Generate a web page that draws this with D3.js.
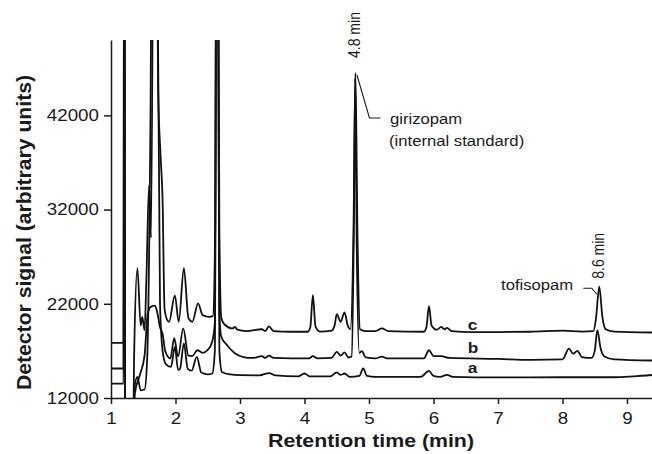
<!DOCTYPE html>
<html>
<head>
<meta charset="utf-8">
<script src="https://cdn.jsdelivr.net/npm/d3@7"></script>
<style>
  body { margin: 0; background: #fff; }
  svg { display: block; font-family: "Liberation Sans", Arial, sans-serif; }
  .axis path, .axis line { stroke: #1a1a1a; stroke-width: 1.5; }
  .axis text { fill: #1a1a1a; font-size: 16.3px; }
  .trace { fill: none; stroke: #111; stroke-width: 1.8; stroke-linejoin: round; }
</style>
</head>
<body>
<div id="chart"></div>
<script>
// retention time (min), detector signal
// values above 50000 / below 12000 are off-scale and get clipped
const traceA = [
  [1.00,13530],[1.195,13530],[1.205,90000],[1.22,0],[1.33,0],[1.36,13000],[1.41,14230],[1.46,12820],
  [1.52,12900],[1.56,16000],[1.61,40000],[1.66,90000],[1.72,60000],[1.76,22000],[1.80,17000],[1.85,15600],
  [1.93,15300],[1.99,17430],[2.04,15000],[2.07,15100],[2.13,17800],[2.19,15100],[2.25,14900],[2.33,16360],
  [2.40,14700],[2.50,14500],[2.57,14600],[2.61,17000],[2.645,90000],[2.68,17000],[2.72,14770],[2.85,14500],
  [3.00,14420],[3.30,14400],[3.45,14650],[3.55,14400],[3.90,14300],[4.00,14600],[4.08,14300],[4.40,14300],
  [4.50,14730],[4.56,14450],[4.62,14600],[4.70,14250],[4.85,14350],[4.91,15130],[4.97,14350],[5.10,14250],
  [5.80,14250],[5.93,14870],[6.00,14350],[6.10,14250],[6.21,14450],[6.30,14250],[7.00,14180],[8.00,14200],
  [8.80,14200],[9.10,14300],[9.40,14450]
];
const traceB = [
  [1.00,15130],[1.195,15130],[1.205,90000],[1.22,0],[1.33,0],[1.37,12500],[1.45,14500],[1.52,16500],
  [1.57,21000],[1.62,21700],[1.68,21800],[1.72,21000],[1.76,19500],[1.80,18800],[1.84,17000],[1.92,16200],
  [1.98,18350],[2.04,16400],[2.12,19380],[2.20,16500],[2.26,16450],[2.34,17070],[2.42,16800],[2.50,17100],
  [2.57,18000],[2.61,20000],[2.64,90000],[2.68,21000],[2.71,18500],[2.80,17600],[2.92,16750],[3.05,16350],
  [3.20,16250],[3.34,16450],[3.39,16250],[3.45,16500],[3.52,16250],[3.80,16200],[4.07,16200],[4.13,16440],
  [4.20,16200],[4.42,16250],[4.50,16900],[4.56,16500],[4.62,16850],[4.68,16300],[4.73,16400],[4.765,30000],
  [4.785,46000],[4.81,28000],[4.85,16800],[4.89,16970],[4.95,16300],[5.10,16200],[5.20,16400],[5.28,16200],
  [5.85,16200],[5.93,17070],[6.00,16450],[6.12,16440],[6.25,16250],[7.00,16150],[7.50,16050],[8.00,16100],
  [8.10,17250],[8.165,16700],[8.23,17000],[8.30,16350],[8.45,16250],[8.50,17000],[8.54,19200],[8.59,17300],
  [8.65,16400],[8.80,16100],[9.40,15980]
];
const traceC = [
  [1.00,17850],[1.195,17850],[1.205,90000],[1.22,0],[1.33,0],[1.36,17000],[1.41,25770],[1.46,19700],
  [1.485,20600],[1.52,19200],[1.55,25000],[1.59,34600],[1.62,29000],[1.68,90000],[1.73,45000],[1.77,37500],
  [1.80,33000],[1.83,21500],[1.87,20300],[1.90,20090],[1.99,22900],[2.05,20090],[2.13,25770],[2.20,20500],
  [2.26,20090],[2.35,22040],[2.42,20800],[2.52,20620],[2.58,20700],[2.615,30000],[2.645,90000],[2.68,30000],
  [2.71,20500],[2.76,19800],[2.89,19380],[2.92,19550],[2.96,19250],[3.10,19100],[3.34,19300],[3.39,19100],
  [3.45,19600],[3.52,19100],[3.80,19030],[4.05,19030],[4.09,19500],[4.13,22930],[4.17,19600],[4.24,19050],
  [4.42,19150],[4.47,19800],[4.50,20900],[4.56,20090],[4.62,21090],[4.67,19700],[4.71,19300],[4.76,30000],
  [4.79,46500],[4.82,30000],[4.86,19300],[4.95,19100],[5.10,19100],[5.20,19380],[5.30,19100],[5.85,19030],
  [5.89,19500],[5.93,21760],[5.97,19700],[6.05,19250],[6.12,19550],[6.17,19300],[6.21,19450],[6.28,19100],
  [6.60,19000],[7.00,19000],[7.50,19030],[8.00,19150],[8.30,19050],[8.48,19100],[8.52,20500],[8.57,23810],
  [8.62,20500],[8.67,19300],[8.80,19050],[9.40,18950]
];

const xTicks = [1, 2, 3, 4, 5, 6, 7, 8, 9];
const yTicks = [12000, 22000, 32000, 42000];
const traceNames = ['a', 'b', 'c'];
const traceLabelAt = [[6.53, 14690], [6.53, 16780], [6.53, 19220]];
const peakLabels = ['4.8 min', '8.6 min'];
const peakAt = [[4.79, 46500], [8.57, 23810]];

const width = 652, height = 454;
const margin = { top: 40, left: 111 };
const plotBottom = 398;
const stretch = 1.15; // lettering in the source is a bit wide

const svg = d3.select('#chart').append('svg')
    .attr('width', width)
    .attr('height', height);

const x = d3.scaleLinear().domain([1, 9.4]).range([margin.left, margin.left + 8.4 * 64.5]);
const y = d3.scaleLinear().domain([12000, 50000]).range([plotBottom, margin.top]);

svg.append('defs').append('clipPath').attr('id', 'plot-clip')
  .append('rect')
    .attr('x', margin.left).attr('y', margin.top)
    .attr('width', width - margin.left).attr('height', plotBottom - margin.top);

const line = d3.line()
    .x(d => x(d[0]))
    .y(d => y(d[1]))
    .curve(d3.curveMonotoneX);

svg.append('g').attr('clip-path', 'url(#plot-clip)')
  .selectAll('path')
  .data([traceA, traceB, traceC])
  .join('path')
    .attr('class', 'trace')
    .attr('d', line);

// axes
const xAxisG = svg.append('g')
    .attr('class', 'axis')
    .attr('transform', `translate(0,${plotBottom})`)
    .call(d3.axisBottom(x).tickValues(xTicks).tickSize(6).tickPadding(8).tickSizeOuter(0).tickFormat(d3.format('d')));
xAxisG.selectAll('text').attr('transform', `scale(${stretch},1)`);

const yAxisG = svg.append('g')
    .attr('class', 'axis')
    .attr('transform', `translate(${margin.left},0)`)
    .call(d3.axisLeft(y).tickValues(yTicks).tickSize(7).tickPadding(3.5).tickSizeOuter(0).tickFormat(d3.format('d')));
yAxisG.selectAll('text').attr('transform', `scale(${stretch},1)`);

// axis titles
svg.append('text')
    .attr('x', 268).attr('y', 447)
    .attr('font-size', 18.6).attr('font-weight', 'bold').attr('fill', '#1a1a1a')
    .attr('textLength', 206).attr('lengthAdjust', 'spacingAndGlyphs')
    .text('Retention time (min)');

svg.append('text')
    .attr('transform', `translate(31,${(75 + 390) / 2}) rotate(-90) scale(1,${stretch})`)
    .attr('text-anchor', 'middle')
    .attr('font-size', 18).attr('font-weight', 'bold').attr('fill', '#1a1a1a')
    .attr('textLength', 315).attr('lengthAdjust', 'spacingAndGlyphs')
    .text('Detector signal (arbitrary units)');

// trace letters
svg.selectAll('.trace-label')
  .data(traceNames)
  .join('text')
    .attr('class', 'trace-label')
    .attr('transform', (d, i) => `translate(${x(traceLabelAt[i][0])},${y(traceLabelAt[i][1])}) scale(${stretch},1)`)
    .attr('font-size', 15).attr('font-weight', 'bold').attr('fill', '#1a1a1a')
    .text(d => d);

// peak time labels, rotated
const labelGap = [15, 8];
svg.selectAll('.peak-label')
  .data(peakLabels)
  .join('text')
    .attr('class', 'peak-label')
    .attr('transform', (d, i) => `translate(${x(peakAt[i][0]) + 5},${y(peakAt[i][1]) - labelGap[i]}) rotate(-90) scale(1,${stretch})`)
    .attr('font-size', 14).attr('fill', '#1a1a1a')
    .text(d => d);

// compound annotations
const gx = x(peakAt[0][0]), gy = y(peakAt[0][1]);
svg.append('path')
    .attr('d', `M${gx + 1.5},${gy + 2} L${gx + 14},118 L${gx + 25},118`)
    .attr('fill', 'none').attr('stroke', '#1a1a1a').attr('stroke-width', 1.1);
svg.append('text')
    .attr('transform', `translate(390,124) scale(${stretch},1)`)
    .attr('font-size', 14.5).attr('fill', '#1a1a1a')
    .text('girizopam');
svg.append('text')
    .attr('transform', `translate(389,146) scale(${stretch},1)`)
    .attr('font-size', 14.5).attr('fill', '#1a1a1a')
    .text('(internal standard)');

const tx = x(peakAt[1][0]), ty = y(peakAt[1][1]);
svg.append('path')
    .attr('d', `M${tx - 16},${ty + 1.5} L${tx - 7.5},${ty + 1.5} L${tx - 2.5},${ty + 7.5}`)
    .attr('fill', 'none').attr('stroke', '#1a1a1a').attr('stroke-width', 1.1);
svg.append('text')
    .attr('transform', `translate(${tx - 26},${ty + 3.5}) scale(${stretch},1)`)
    .attr('text-anchor', 'end')
    .attr('font-size', 14.5).attr('fill', '#1a1a1a')
    .text('tofisopam');
</script>
</body>
</html>
